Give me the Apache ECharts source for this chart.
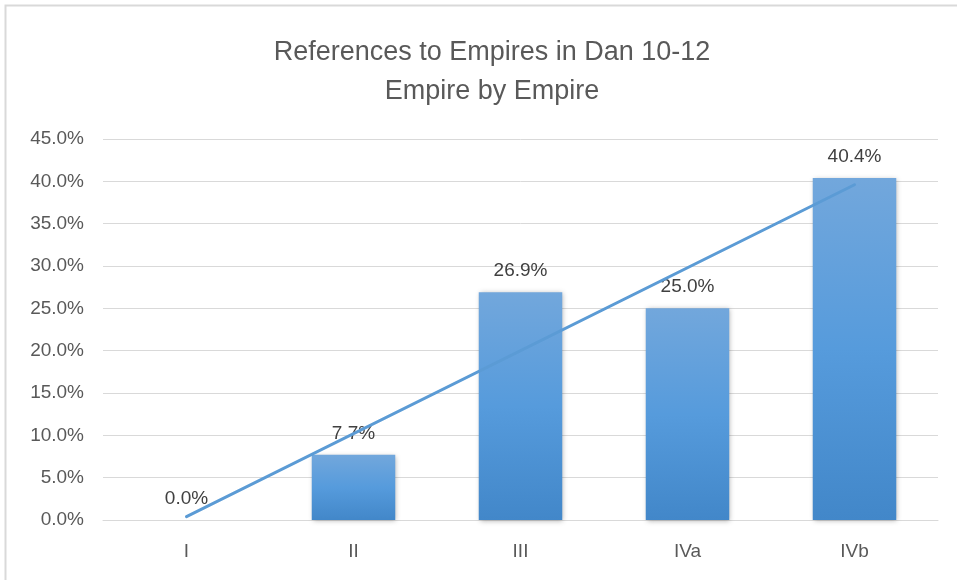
<!DOCTYPE html>
<html>
<head>
<meta charset="utf-8">
<script src="https://cdn.jsdelivr.net/npm/echarts@6/dist/echarts.min.js"></script>
<style>
html,body{margin:0;padding:0;background:#fff;}
#chart{width:957px;height:580px;}
</style>
</head>
<body>
<div id="chart"></div>
<script>
var categories = ['I', 'II', 'III', 'IVa', 'IVb'];
var values = [0.0, 7.7, 26.9, 25.0, 40.4];
var trendStart = 0.4;
var trendEnd = 39.6;
var yTicks = [0, 5, 10, 15, 20, 25, 30, 35, 40, 45];

var trendData = categories.map(function (c, i) {
  if (i === 0) return trendStart;
  if (i === categories.length - 1) return trendEnd;
  return null;
});

var FONT = '"Liberation Sans", Arial, sans-serif';
var chart = echarts.init(document.getElementById('chart'), null, {renderer: 'canvas'});
chart.setOption({
  animation: false,
  backgroundColor: '#fff',
  graphic: [{
    type: 'rect',
    shape: {x: 5.5, y: 5.5, width: 1000, height: 1000},
    style: {fill: 'none', stroke: '#d9d9d9', lineWidth: 2},
    silent: true,
    z: -10
  }],
  title: {
    text: 'References to Empires in Dan 10-12\nEmpire by Empire',
    left: 487,
    top: 28,
    textAlign: 'center',
    textStyle: {
      fontFamily: FONT,
      fontSize: 27,
      fontWeight: 'normal',
      color: '#595959',
      lineHeight: 39
    }
  },
  grid: {left: 103, right: 19, top: 139, bottom: 60, containLabel: false},
  xAxis: {
    type: 'category',
    data: categories,
    axisLine: {show: true, lineStyle: {color: '#d9d9d9', width: 1}},
    axisTick: {show: false},
    axisLabel: {color: '#595959', fontFamily: FONT, fontSize: 19, margin: 22}
  },
  yAxis: {
    type: 'value',
    min: yTicks[0],
    max: yTicks[yTicks.length - 1],
    interval: 5,
    axisLine: {show: false},
    axisTick: {show: false},
    splitLine: {lineStyle: {color: '#d9d9d9', width: 1}},
    axisLabel: {
      color: '#595959', fontFamily: FONT, fontSize: 19, margin: 19,
      formatter: function (v) { return v.toFixed(1) + '%'; }
    }
  },
  series: [{
    type: 'bar',
    data: values,
    barWidth: '50%',
    itemStyle: {
      color: new echarts.graphic.LinearGradient(0, 0, 0, 1, [
        {offset: 0, color: '#72a7dc'},
        {offset: 0.5, color: '#569bdc'},
        {offset: 1, color: '#4287c9'}
      ]),
      shadowBlur: 5,
      shadowColor: 'rgba(0,0,0,0.3)',
      shadowOffsetX: 1,
      shadowOffsetY: 1
    },
    label: {
      show: true,
      position: 'top',
      distance: 12,
      color: '#404040',
      fontFamily: FONT,
      fontSize: 19,
      formatter: function (p) { return p.value.toFixed(1) + '%'; }
    },
    z: 2
  }, {
    type: 'line',
    data: trendData,
    connectNulls: true,
    symbol: 'none',
    lineStyle: {color: '#5b9bd5', width: 3, cap: 'round'},
    z: 3
  }]
});
</script>
</body>
</html>
